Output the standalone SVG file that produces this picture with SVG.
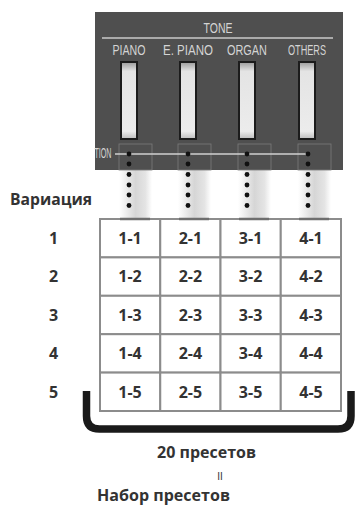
<svg xmlns="http://www.w3.org/2000/svg" width="355" height="506" viewBox="0 0 355 506">
<style>
.pl{font-family:"Liberation Sans",Arial,sans-serif;font-size:15.5px;fill:#d4d4d4;text-anchor:middle}
.b{font-family:"Open Sans","Noto Sans",sans-serif;font-weight:bold;fill:#333;text-anchor:middle}
.cell{fill:#fff;stroke:#8c8c8c;stroke-width:2}
.btn{fill:url(#bg);stroke:#1c1c1c;stroke-width:2}
.box{fill:none;stroke:#7a7a7a;stroke-width:0.8}
.dot{fill:#111}
.sh{fill:url(#sg)}
</style>
<defs>
<linearGradient id="bg" x1="0" y1="0" x2="0" y2="1">
<stop offset="0" stop-color="#9a9a9a"/>
<stop offset="0.12" stop-color="#e4e4e4"/>
<stop offset="0.9" stop-color="#ececec"/>
<stop offset="1" stop-color="#bdbdbd"/>
</linearGradient>
<linearGradient id="sg" x1="0" y1="0" x2="1" y2="0">
<stop offset="0" stop-color="#fff"/>
<stop offset="0.5" stop-color="#d6d6d6"/>
<stop offset="0.8" stop-color="#e4e4e4"/>
<stop offset="1" stop-color="#fff"/>
</linearGradient>
</defs>
<g id="panel">
<rect x="95" y="12" width="248" height="158" fill="#4f4f4f"/>
<text class="pl" x="218" y="33" font-size="14" textLength="29" lengthAdjust="spacingAndGlyphs">TONE</text>
<line x1="102" y1="38" x2="333" y2="38" stroke="#c8c8c8" stroke-width="1.5"/>
<text class="pl" x="103" y="158" font-size="11" textLength="17" lengthAdjust="spacingAndGlyphs">TION</text>
</g>
<g id="btn-piano"><text class="pl" x="129" y="55" textLength="33" lengthAdjust="spacingAndGlyphs">PIANO</text><rect class="btn" x="121" y="62" width="16" height="77"/></g>
<g id="btn-epiano"><text class="pl" x="188" y="55" textLength="50" lengthAdjust="spacingAndGlyphs">E. PIANO</text><rect class="btn" x="180" y="62" width="16" height="77"/></g>
<g id="btn-organ"><text class="pl" x="247" y="55" textLength="40" lengthAdjust="spacingAndGlyphs">ORGAN</text><rect class="btn" x="239" y="62" width="16" height="77"/></g>
<g id="btn-others"><text class="pl" x="307" y="55" textLength="38" lengthAdjust="spacingAndGlyphs">OTHERS</text><rect class="btn" x="299" y="62" width="16" height="77"/></g>
<g id="connectors">
<rect class="sh" x="119" y="170" width="33" height="48"/>
<rect class="sh" x="178" y="170" width="33" height="48"/>
<rect class="sh" x="238" y="170" width="33" height="48"/>
<rect class="sh" x="298" y="170" width="33" height="48"/>
<rect class="box" x="119" y="144" width="33" height="26"/>
<rect class="box" x="178" y="144" width="33" height="26"/>
<rect class="box" x="238" y="144" width="33" height="26"/>
<rect class="box" x="298" y="144" width="33" height="26"/>
<line x1="115" y1="154" x2="308" y2="154" stroke="#cfcfcf" stroke-width="1.5"/>
<g class="dot">
<circle cx="129" cy="154" r="2.4"/><circle cx="129" cy="164" r="2.4"/><circle cx="129" cy="174.5" r="2.4"/><circle cx="129" cy="185" r="2.4"/><circle cx="129" cy="195" r="2.4"/><circle cx="129" cy="205.5" r="2.4"/>
<circle cx="188" cy="154" r="2.4"/><circle cx="188" cy="164" r="2.4"/><circle cx="188" cy="174.5" r="2.4"/><circle cx="188" cy="185" r="2.4"/><circle cx="188" cy="195" r="2.4"/><circle cx="188" cy="205.5" r="2.4"/>
<circle cx="247" cy="154" r="2.4"/><circle cx="247" cy="164" r="2.4"/><circle cx="247" cy="174.5" r="2.4"/><circle cx="247" cy="185" r="2.4"/><circle cx="247" cy="195" r="2.4"/><circle cx="247" cy="205.5" r="2.4"/>
<circle cx="308" cy="154" r="2.4"/><circle cx="308" cy="164" r="2.4"/><circle cx="308" cy="174.5" r="2.4"/><circle cx="308" cy="185" r="2.4"/><circle cx="308" cy="195" r="2.4"/><circle cx="308" cy="205.5" r="2.4"/>
</g>
</g>
<g id="table">
<rect class="cell" x="100" y="219" width="60.25" height="38.4"/><rect class="cell" x="160.25" y="219" width="60.25" height="38.4"/><rect class="cell" x="220.5" y="219" width="60.25" height="38.4"/><rect class="cell" x="280.75" y="219" width="60.25" height="38.4"/>
<rect class="cell" x="100" y="257.4" width="60.25" height="38.4"/><rect class="cell" x="160.25" y="257.4" width="60.25" height="38.4"/><rect class="cell" x="220.5" y="257.4" width="60.25" height="38.4"/><rect class="cell" x="280.75" y="257.4" width="60.25" height="38.4"/>
<rect class="cell" x="100" y="295.8" width="60.25" height="38.4"/><rect class="cell" x="160.25" y="295.8" width="60.25" height="38.4"/><rect class="cell" x="220.5" y="295.8" width="60.25" height="38.4"/><rect class="cell" x="280.75" y="295.8" width="60.25" height="38.4"/>
<rect class="cell" x="100" y="334.2" width="60.25" height="38.4"/><rect class="cell" x="160.25" y="334.2" width="60.25" height="38.4"/><rect class="cell" x="220.5" y="334.2" width="60.25" height="38.4"/><rect class="cell" x="280.75" y="334.2" width="60.25" height="38.4"/>
<rect class="cell" x="100" y="372.6" width="60.25" height="38.4"/><rect class="cell" x="160.25" y="372.6" width="60.25" height="38.4"/><rect class="cell" x="220.5" y="372.6" width="60.25" height="38.4"/><rect class="cell" x="280.75" y="372.6" width="60.25" height="38.4"/>
<g stroke="#6e6e6e" stroke-width="2.5">
<line x1="120" y1="219" x2="150" y2="219"/><line x1="179" y1="219" x2="209" y2="219"/><line x1="239" y1="219" x2="269" y2="219"/><line x1="299" y1="219" x2="329" y2="219"/>
</g>
<g class="b" font-size="16">
<text x="130" y="244">1-1</text><text x="190.4" y="244">2-1</text><text x="250.6" y="244">3-1</text><text x="311" y="244">4-1</text>
<text x="130" y="282.4">1-2</text><text x="190.4" y="282.4">2-2</text><text x="250.6" y="282.4">3-2</text><text x="311" y="282.4">4-2</text>
<text x="130" y="320.8">1-3</text><text x="190.4" y="320.8">2-3</text><text x="250.6" y="320.8">3-3</text><text x="311" y="320.8">4-3</text>
<text x="130" y="359.2">1-4</text><text x="190.4" y="359.2">2-4</text><text x="250.6" y="359.2">3-4</text><text x="311" y="359.2">4-4</text>
<text x="130" y="397.6">1-5</text><text x="190.4" y="397.6">2-5</text><text x="250.6" y="397.6">3-5</text><text x="311" y="397.6">4-5</text>
</g>
</g>
<g id="row-labels" class="b" font-size="16">
<text x="51" y="205" textLength="82" lengthAdjust="spacingAndGlyphs">Вариация</text>
<text x="53.5" y="244">1</text><text x="53.5" y="282.4">2</text><text x="53.5" y="320.8">3</text><text x="53.5" y="359.2">4</text><text x="53.5" y="397.6">5</text>
</g>
<g id="bracket">
<path d="M86.5,391 V416 Q86.5,429 99.5,429 H338 Q351,429 351,416 V391" fill="none" stroke="#1a1a1a" stroke-width="7.5"/>
</g>
<g id="summary" class="b" font-size="16">
<text x="206.5" y="458" textLength="99" lengthAdjust="spacingAndGlyphs">20 пресетов</text>
<text x="220" y="480" font-family="Liberation Sans,sans-serif" font-size="10" font-weight="normal" fill="#333">II</text>
<text x="163.5" y="501" textLength="133" lengthAdjust="spacingAndGlyphs">Набор пресетов</text>
</g>
</svg>
